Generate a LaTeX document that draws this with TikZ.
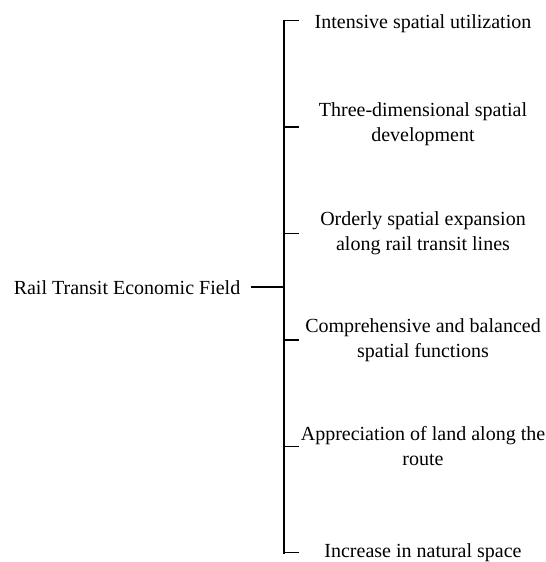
\documentclass[tikz,border=0pt]{standalone}
\usepackage{fontspec}
\setmainfont{Liberation Serif}
\usetikzlibrary{positioning}
\tikzset{
  item/.style={font=\fontsize{20bp}{25bp}\selectfont,align=center,inner sep=0pt},
  spine/.style={line width=1.8bp,line cap=rect},
  twig/.style={line width=1.3bp},
}
\begin{document}
\begin{tikzpicture}[x=1bp,y=-1bp]
  \useasboundingbox (0,0) rectangle (546,562);
  \node[item] (root) at (127,287.5) {Rail Transit Economic Field};
  \coordinate (hub) at (284,286.7);
  \draw[spine] ([xshift=11bp]root.east|-hub) -- (hub);
  % branches
  \foreach \t/\dy [count=\i from 0] in {Intensive spatial utilization/3,
      {Three-dimensional spatial\\development}/-3,
      {Orderly spatial expansion\\along rail transit lines}/0,
      {Comprehensive and balanced\\spatial functions}/0,
      {Appreciation of land along the\\route}/0,
      Increase in natural space/-0.5}
  {
    \coordinate (b\i) at (284,20.7+\i*106.4);
    \coordinate (e\i) at (299,20.7+\i*106.4);
    \draw[twig] (b\i) -- (e\i);
    \node[item] (t\i) at (423,20.7+\i*106.4+\dy) {\t};
  }
  \draw[spine] (b0) -- (b5);
\end{tikzpicture}
\end{document}
